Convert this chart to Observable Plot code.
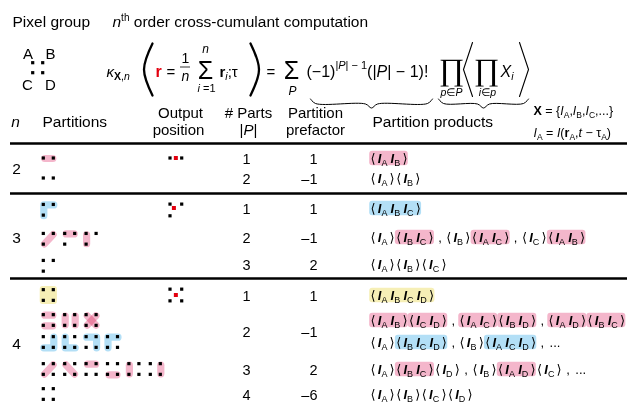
<!DOCTYPE html>
<html><head><meta charset="utf-8">
<script src="https://cdn.jsdelivr.net/npm/d3@7"></script>
<script src="https://cdn.jsdelivr.net/npm/@observablehq/plot@0.6"></script>
<style>html,body{margin:0;padding:0;background:#fff;} svg{display:block}</style>
</head><body><div id="chart"></div>
<script>
// ================= DATA =================
const pixelLabels = ["A", "B", "C", "D"];
const rowN         = [2, 2, 3, 3, 3, 4, 4, 4, 4];
const rowParts     = [1, 2, 1, 2, 3, 1, 2, 3, 4];
const rowPrefactor = [1, -1, 1, -1, 2, 1, -1, 2, -6];
// each row: list of lines; each line: list of partition diagrams ("AB CD" = blocks)
const rowPartitions = [
  [["AB"]],
  [["A B"]],
  [["ABC"]],
  [["A BC", "AB C", "AC B"]],
  [["A B C"]],
  [["ABCD"]],
  [["AB CD", "AC BD", "AD BC"], ["A BCD", "B ACD", "C ABD", "D ABC"]],
  [["A D BC", "B C AD", "C D AB", "A B CD", "B D AC", "A C BD"]],
  [["A B C D"]]
];
// partition products: group letters, * = highlighted
const rowProducts = [
  ["AB*"],
  ["A B"],
  ["ABC*"],
  ["A BC* , B AC* , C AB*"],
  ["A B C"],
  ["ABCD*"],
  ["AB* CD* , AC* BD* , AD* BC*", "A BCD* , B ACD* , ..."],
  ["A BC* D , B AD* C , ..."],
  ["A B C D"]
];
const titleLeft = "Pixel group";
const titleRight = " order cross-cumulant computation";

// ================= LAYOUT / STYLE =================
const SANS = "'Liberation Sans', Arial, Helvetica, sans-serif";
const MATH = "'DejaVu Sans', sans-serif";
const SERIF = "'Liberation Serif', 'DejaVu Serif', serif";
const PINK = "#f4b6cb", BLUE = "#b3dff6", YELLOW = "#f6efb6", RED = "#e3000f";
const blockColor = {2: PINK, 3: BLUE, 4: YELLOW};
const lineYs = [[158], [178], [208], [237], [264], [295], [320, 342], [369], [394]];
const nLabelY = {2: 168, 3: 237, 4: 343};
const ruleYs = [143, 193, 278];
const GRID = {A: [0, 0], B: [1, 0], C: [0, 1], D: [1, 1]};

const ctx = document.createElement("canvas").getContext("2d");
function tw(k) { ctx.font = `${k.st} ${k.wt} ${k.fs}px ${k.fam}`; return ctx.measureText(k.t).width; }
function K(t, fs, o = {}) { return {t, fs, st: o.st || "normal", wt: o.wt || "normal", fam: o.fam || SANS, dy: o.dy || 0, fill: o.fill || "#000"}; }
const it = (t, fs, o = {}) => K(t, fs, {...o, st: "italic"});
const bd = (t, fs, o = {}) => K(t, fs, {...o, wt: "bold"});
const S = n => ({sp: n});

const T = [];           // text pieces
function rich(x, y, toks, anchor = "start") {
  const total = toks.reduce((s, k) => s + (k.sp != null ? k.sp : tw(k)), 0);
  if (anchor === "middle") x -= total / 2; else if (anchor === "end") x -= total;
  for (const k of toks) {
    if (k.sp != null) { x += k.sp; continue; }
    T.push({x, y: y + k.dy, text: k.t, fs: k.fs, st: k.st, wt: k.wt, fam: k.fam, fill: k.fill});
    x += tw(k);
  }
  return x;
}

const dots = [], redDots = [], blockLines = [], blockRects = [], boxes = [], strokes = [];
let zid = 0;
function diagram(spec, n, ax, ay, sx, sy) {
  const P = L => [ax + GRID[L][0] * sx, ay + GRID[L][1] * sy];
  for (const block of spec.split(" ")) {
    const L = block.split("");
    if (L.length === 2) {
      const id = zid++;
      const [p, q] = L.map(P);
      const len = Math.hypot(q[0] - p[0], q[1] - p[1]), sh = 1 / len;
      blockLines.push({x: p[0] + (q[0] - p[0]) * sh, y: p[1] + (q[1] - p[1]) * sh, id, c: blockColor[2]});
      blockLines.push({x: q[0] - (q[0] - p[0]) * sh, y: q[1] - (q[1] - p[1]) * sh, id, c: blockColor[2]});
    } else if (L.length === 3) {
      const corner = L.find(l => L.filter(m => m !== l).every(m =>
        Math.abs(GRID[m][0] - GRID[l][0]) + Math.abs(GRID[m][1] - GRID[l][1]) === 1));
      const others = L.filter(l => l !== corner);
      const id = zid++;
      [others[0], corner, others[1]].forEach(l => { const [x, y] = P(l); blockLines.push({x, y, id, c: blockColor[3]}); });
    } else if (L.length === 4) {
      const xs = L.map(l => P(l)[0]), ys = L.map(l => P(l)[1]);
      blockRects.push({x1: d3.min(xs) - 3.6, x2: d3.max(xs) + 3.6, y1: d3.min(ys) - 3.6, y2: d3.max(ys) + 3.6, fill: blockColor[4]});
    }
  }
  pixelLabels.slice(0, n).forEach(l => { const [x, y] = P(l); dots.push({x, y}); });
}
const meanGy = n => d3.mean(pixelLabels.slice(0, n), l => GRID[l][1]);
const meanGx = n => d3.mean(pixelLabels.slice(0, n), l => GRID[l][0]);

function productLine(str, x, base) {
  const fsI = 13, fsS = 9, fsB = 13;
  for (const tok of str.split(" ")) {
    if (tok === ",") { x = rich(x + 3, base, [K(",", fsI)]) + 4.5; continue; }
    if (tok === "...") { x = rich(x + 1, base, [K("...", fsI)]); continue; }
    const hl = tok.endsWith("*");
    const letters = tok.replace("*", "").split("");
    const x0 = x;
    const toks = [K("⟨", fsB, {fam: MATH}), S(2.2)];
    letters.forEach((L, i) => {
      toks.push(it("I", fsI, {wt: "bold"}), K(L, fsS, {dy: 2.5}));
      if (i < letters.length - 1) toks.push(S(3.2));
    });
    toks.push(S(2.2), K("⟩", fsB, {fam: MATH}));
    x = rich(x, base, toks);
    if (hl) boxes.push({x1: x0 - 0.8, x2: x + 0.8, y1: base - 4.5 - 7.2, y2: base - 4.5 + 7.2, fill: blockColor[letters.length]});
    x += 1.5;
  }
}

// ---- title ----
rich(12, 26.6, [K(titleLeft, 15.5)]);
rich(112, 26.6, [it("n", 15.5), K("th", 10, {dy: -6}), K(titleRight, 15.5)]);
// ---- pixel group icon ----
diagram("A B C D", 4, 32.7, 62.7, 10, 10);
rich(27.5, 58.3, [K(pixelLabels[0], 15)], "middle");
rich(50, 58.3, [K(pixelLabels[1], 15)], "middle");
rich(27, 89.3, [K(pixelLabels[2], 15)], "middle");
rich(50, 89.3, [K(pixelLabels[3], 15)], "middle");

// ---- formula ----
const FB = 76;
rich(106, FB, [it("κ", 15), bd("X", 10.5, {dy: 3}), K(",", 10.5, {dy: 3}), it("n", 10.5, {dy: 3})]);
rich(155, FB, [bd("r", 16, {fill: RED})]);
rich(166, FB, [K("=", 15)]);
rich(185, 62, [K("1", 14)], "middle");
rich(185, 80.5, [it("n", 14)], "middle");
rich(205, 78, [K("Σ", 25)], "middle");
rich(205, 52, [it("n", 12)], "middle");
rich(206, 91.5, [it("i", 11), K(" =1", 11)], "middle");
rich(219, FB, [bd("r", 15), it("i", 10.5, {dy: 3}), K(";τ", 15)]);
rich(266, FB, [K("=", 15)]);
rich(291, 78, [K("Σ", 25)], "middle");
rich(292, 94.5, [it("P", 12)], "middle");
rich(306, FB, [K("(−1)", 16), K("|", 11, {dy: -7.5}), it("P", 11, {dy: -7.5}), K("| − 1", 11, {dy: -7.5}),
               K("(|", 16), it("P", 16), K("| − 1)!", 16)]);
rich(451, 79, [K("∏", 31, {fam: SERIF})], "middle");
rich(451, 95.5, [it("p", 10.5), K("∈", 10.5, {fam: MATH}), it("P", 10.5)], "middle");
rich(486, 79, [K("∏", 31, {fam: SERIF})], "middle");
rich(487, 95.5, [it("i", 10.5), K("∈", 10.5, {fam: MATH}), it("p", 10.5)], "middle");
rich(500, FB, [it("X", 16), it("i", 10.5, {dy: 3})]);
// fraction bar
const fracBar = [{x1: 180, x2: 190, y: 66.5}];
// big delimiters (parentheses and angle brackets) and underbraces
const delimiters = [
  {pts: [[152, 43], [143.5, 69], [152, 95]], w: 2.3, curve: "natural"},
  {pts: [[250, 43], [258.5, 69], [250, 95]], w: 2.3, curve: "natural"},
  {pts: [[472, 42], [463, 69], [472, 96]], w: 1.1, curve: "linear"},
  {pts: [[519, 42], [528, 69], [519, 96]], w: 1.1, curve: "linear"}
];
delimiters.forEach((d, i) => d.pts.forEach(([x, y]) => strokes.push({x, y, id: "d" + i, w: d.w, curve: d.curve})));
[[310, 432], [438, 528]].forEach(([a, b], i) => {
  const m = (a + b) / 2, y0 = 98.5;
  [[a, y0], [a + 5, y0 + 4.5], [m - 6, y0 + 5], [m, y0 + 9], [m + 6, y0 + 5], [b - 5, y0 + 4.5], [b, y0]]
    .forEach(([x, y]) => strokes.push({x, y, id: "b" + i, w: 1, curve: "catmull-rom"}));
});
// definitions
rich(533, 114.5, [bd("X", 12.5), K(" = {", 12.5), it("I", 12.5), K("A", 8.5, {dy: 3}), K(",", 12.5),
  it("I", 12.5), K("B", 8.5, {dy: 3}), K(",", 12.5), it("I", 12.5), K("C", 8.5, {dy: 3}), K(",...}", 12.5)]);
rich(533, 136.5, [it("I", 12.5), K("A", 8.5, {dy: 3}), K(" = ", 12.5), it("I", 12.5), K("(", 12.5), bd("r", 12.5),
  K("A", 8.5, {dy: 3}), K(",", 12.5), it("t", 12.5), K(" − ", 12.5), K("τ", 12.5), K("A", 8.5, {dy: 3}), K(")", 12.5)]);

// ---- header ----
const HF = 15.5, HF2 = 15;
rich(15, 126, [it("n", HF)], "middle");
rich(42, 126, [K("Partitions", HF)]);
rich(180, 117.5, [K("Output", HF2)], "middle");
rich(178, 134, [K("position", HF2)], "middle");
rich(248, 117.5, [K("# Parts", HF2)], "middle");
rich(248, 134, [K("|", HF2), it("P", HF2), K("|", HF2)], "middle");
rich(315, 117.5, [K("Partition", HF2)], "middle");
rich(315, 134, [K("prefactor", HF2)], "middle");
rich(372, 126, [K("Partition products", HF)]);

// ---- rows ----
const seenN = new Set();
rowN.forEach((n, r) => {
  const ys = lineYs[r];
  const yc = d3.mean(ys);
  if (!seenN.has(n)) {
    seenN.add(n);
    rich(16, nLabelY[n] + 5.6, [K(String(n), HF)], "middle");
    const s = 11.7;
    const ax = 170, ay = yc - meanGy(n) * s;
    diagram(pixelLabels.slice(0, n).join(" "), n, ax, ay, s, s);
    redDots.push({x: ax + meanGx(n) * s, y: yc});
  }
  rich(246, yc + 5.2, [K(String(rowParts[r]), 14.5)], "middle");
  const pf = rowPrefactor[r];
  rich(317, yc + 5.2, [K(pf < 0 ? "–" + Math.abs(pf) : String(pf), 14.5)], "end");
  rowPartitions[r].forEach((line, li) => {
    const y = ys[li];
    line.forEach((spec, di) => diagram(spec, n, 43.3 + di * 21.4, y - meanGy(n) * 10.7, 10, 10.7));
  });
  rowProducts[r].forEach((str, li) => productLine(str, 370, ys[li] + 4.5));
});

// ================= PLOT =================
const textMarks = d3.groups(T, d => d.st + "|" + d.wt + "|" + d.fam).map(([, arr]) =>
  Plot.text(arr, {x: "x", y: "y", text: "text", fontSize: d => d.fs, fill: "fill",
    textAnchor: "start", lineAnchor: "bottom",
    fontStyle: arr[0].st, fontWeight: arr[0].wt, fontFamily: arr[0].fam}));
const strokeMarks = d3.groups(strokes, d => d.curve + "|" + d.w).map(([, arr]) =>
  Plot.line(arr, {x: "x", y: "y", z: "id", stroke: "black", strokeWidth: arr[0].w, curve: arr[0].curve}));

const chart = Plot.plot({
  width: 627, height: 404, margin: 0,
  x: {domain: [0, 627], range: [0, 627], axis: null},
  y: {domain: [0, 404], range: [0, 404], axis: null},
  color: {type: "identity"},
  style: {background: "white"},
  marks: [
    Plot.rect(blockRects, {x1: "x1", x2: "x2", y1: "y1", y2: "y2", fill: "fill", rx: 3}),
    Plot.line(blockLines, {x: "x", y: "y", z: "id", stroke: "c", strokeWidth: 7.2,
      strokeLinecap: "round", strokeLinejoin: "round", mixBlendMode: "multiply"}),
    Plot.rect(boxes, {x1: "x1", x2: "x2", y1: "y1", y2: "y2", fill: "fill", rx: 3}),
    Plot.rect(dots, {x1: d => d.x - 1.6, x2: d => d.x + 1.6, y1: d => d.y - 1.6, y2: d => d.y + 1.6, fill: "black"}),
    Plot.rect(redDots, {x1: d => d.x - 2, x2: d => d.x + 2, y1: d => d.y - 2, y2: d => d.y + 2, fill: RED}),
    Plot.ruleY(ruleYs, {x1: 10, x2: 627, stroke: "black", strokeWidth: 2.5}),
    Plot.ruleY(fracBar, {y: "y", x1: "x1", x2: "x2", stroke: "black", strokeWidth: 0.8}),
    ...strokeMarks,
    ...textMarks
  ]
});
document.getElementById("chart").appendChild(chart);
</script>
</body></html>
